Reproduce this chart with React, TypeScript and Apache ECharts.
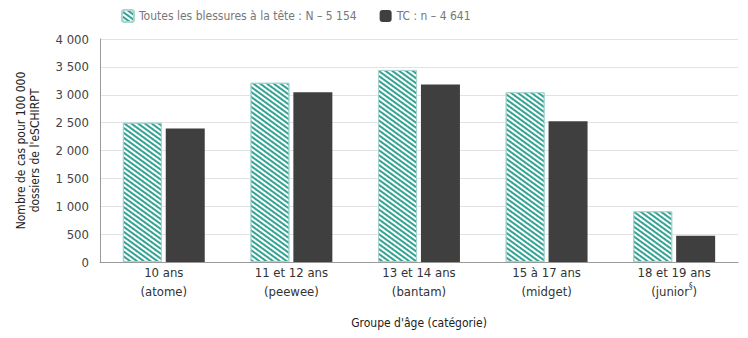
import React, { useEffect, useRef } from "react";
import * as echarts from "echarts";

const categories = [
  "10 ans\n(atome)",
  "11 et 12 ans\n(peewee)",
  "13 et 14 ans\n(bantam)",
  "15 à 17 ans\n(midget)",
  "18 et 19 ans\n(junior{sup|§})",
];
const allHeadInjuries = [2500, 3215, 3445, 3045, 910];
const concussions = [2395, 3045, 3185, 2525, 470];
const seriesNames = ["Toutes les blessures à la tête : N – 5 154", "TC : n – 4 641"];
const yAxisTitle = "Nombre de cas pour 100 000\ndossiers de l'eSCHIRPT";
const xAxisTitle = "Groupe d'âge (catégorie)";

const FONT = "'Liberation Sans Narrow', 'DejaVu Sans Condensed', Roboto, sans-serif";

export default function App() {
  const ref = useRef<HTMLDivElement>(null);
  useEffect(() => {
    if (!ref.current) return;
    const chart = echarts.init(ref.current, undefined, { renderer: "svg" });
    chart.setOption({
      animation: false,
      textStyle: { fontFamily: FONT },
      legend: {
        top: 1,
        left: 113,
        padding: 0,
        itemWidth: 12,
        itemHeight: 12,
        itemGap: 23,
        textStyle: { fontFamily: FONT, fontSize: 12, color: "#777" },
        data: seriesNames,
      },
      grid: { left: 92, right: 10, top: 31, bottom: 76, outerBoundsMode: "none" },
      xAxis: {
        type: "category",
        data: categories,
        name: xAxisTitle,
        nameLocation: "middle",
        nameGap: 55,
        nameTextStyle: { fontFamily: FONT, fontSize: 12, color: "#222" },
        axisLine: { lineStyle: { color: "#999" } },
        axisTick: { inside: true, length: 6, lineStyle: { color: "#999" } },
        axisLabel: {
          fontFamily: FONT,
          fontSize: 13,
          color: "#333",
          lineHeight: 19,
          margin: 1,
          rich: { sup: { fontSize: 8, verticalAlign: "top", padding: [0, 0, 3, 0], color: "#333" } },
        },
      },
      yAxis: {
        type: "value",
        min: 0,
        max: 4000,
        interval: 500,
        name: yAxisTitle,
        nameLocation: "middle",
        nameRotate: 90,
        nameGap: 58,
        nameTextStyle: { fontFamily: FONT, fontSize: 12, color: "#222", lineHeight: 14 },
        axisLine: { show: true, lineStyle: { color: "#999" } },
        axisTick: { show: false },
        axisLabel: {
          fontFamily: FONT,
          fontSize: 13,
          color: "#444",
          margin: 11,
          formatter: (v: number) => String(v).replace(/\B(?=(\d{3})+(?!\d))/g, " "),
        },
        splitLine: { lineStyle: { color: "#e2e2e2" } },
      },
      series: [
        {
          name: seriesNames[0],
          type: "bar",
          data: allHeadInjuries,
          barWidth: 39,
          barGap: "10%",
          itemStyle: {
            color: "#ffffff",
            borderColor: "#a9d6cf",
            borderWidth: 1,
            decal: {
              symbol: "rect",
              color: "#35a394",
              dashArrayX: [1, 0],
              dashArrayY: [2, 2],
              rotation: Math.PI / 5,
            },
          },
        },
        {
          name: seriesNames[1],
          type: "bar",
          data: concussions,
          barWidth: 39,
          itemStyle: { color: "#3f3f40" },
        },
      ],
    });
    return () => chart.dispose();
  }, []);
  return <div ref={ref} style={{ width: 740, height: 330 }} />;
}
